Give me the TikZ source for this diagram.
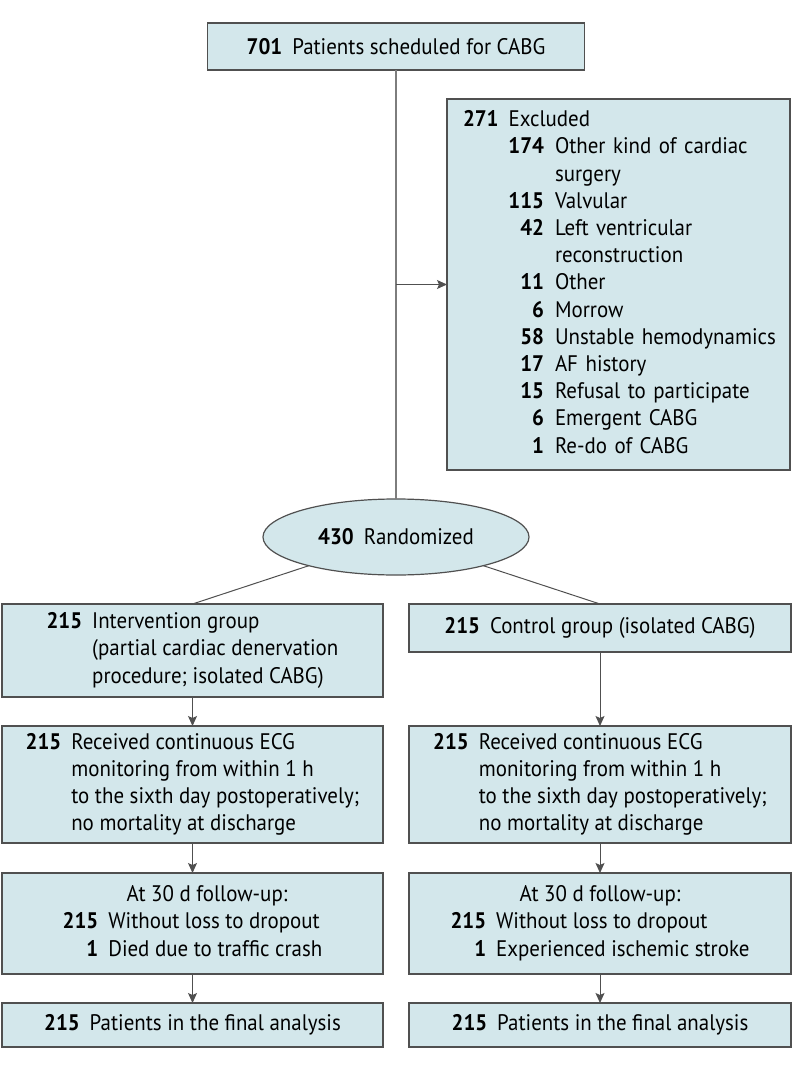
\documentclass[tikz,border=0pt]{standalone}
\usepackage{fontspec}
\setmainfont{PT Sans}[FakeStretch=0.93]
\usetikzlibrary{positioning,shapes.geometric,arrows.meta}

\definecolor{boxFill}{RGB}{211,231,235}
\definecolor{boxLine}{RGB}{80,80,80}
\definecolor{linkGray}{RGB}{125,125,125}

\newcommand{\cnt}[1]{\textbf{#1}}

\tikzstyle{flowBox} = [rectangle, draw=boxLine, fill=boxFill, line width=1.2pt, inner sep=0pt, outer sep=0pt, text centered, font=\fontsize{22.5}{27.2}\selectfont]
\tikzstyle{randNode} = [ellipse, draw=boxLine, fill=boxFill, line width=1.2pt, inner sep=0pt, outer sep=0pt, minimum width=266pt, minimum height=76pt, font=\fontsize{22.5}{27.2}\selectfont]
\tikzstyle{link} = [line width=1.6pt, draw=linkGray]
\tikzstyle{split} = [line width=1pt, draw=boxLine]
\tikzstyle{arrow} = [line width=1pt, draw=boxLine, -{Stealth[length=10pt,width=9pt,inset=2pt]}]

\begin{document}
\begin{tikzpicture}[x=1pt, y=1pt]
    \useasboundingbox (0,0) rectangle (794,-1067);

    \node (scheduled)[flowBox, minimum width=377pt, minimum height=47pt] at (396,-46.5) {\cnt{701}\hspace{10pt}Patients scheduled for CABG};
    \node (excluded)[flowBox, anchor=north west, minimum width=343pt, minimum height=371pt, text width=311pt, align=left] at (447,-99) {%
        \raisebox{-3pt}{\begin{tabular}{@{}r@{\hspace{11pt}}l@{}}
        \multicolumn{2}{@{}l@{}}{\cnt{271}\hspace{10pt}Excluded}\\
        \makebox[81pt][r]{\cnt{174}} & Other kind of cardiac\\
         & surgery\\
        \cnt{115} & Valvular\\
        \cnt{42} & Left ventricular\\
         & reconstruction\\
        \cnt{11} & Other\\
        \cnt{6} & Morrow\\
        \cnt{58} & Unstable hemodynamics\\
        \cnt{17} & AF history\\
        \cnt{15} & Refusal to participate\\
        \cnt{6} & Emergent CABG\\
        \cnt{1} & Re-do of CABG
        \end{tabular}}};
    \node (randomized)[randNode] at (396,-537) {\cnt{430}\hspace{10pt}Randomized};

    \node (intervention)[flowBox, anchor=north west, minimum width=381pt, minimum height=93pt] at (2,-604) {%
        \begin{tabular}{@{}r@{\hspace{10pt}}l@{}}
        \cnt{215} & Intervention group\\
         & (partial cardiac denervation\\
         & procedure; isolated CABG)
        \end{tabular}};
    \node (control)[flowBox, right=26pt of intervention.north east, anchor=north west, minimum width=382pt, minimum height=48pt] {\cnt{215}\hspace{10pt}Control group (isolated CABG)};

    \node (monitorL)[flowBox, below=29pt of intervention, minimum width=381pt, minimum height=117pt] {%
        \begin{tabular}{@{}r@{\hspace{10pt}}l@{}}
        \cnt{215} & Received continuous ECG\\
         & monitoring from within 1 h\\
         & to the sixth day postoperatively;\\
         & no mortality at discharge
        \end{tabular}};
    \node (monitorR)[flowBox, right=26pt of monitorL, minimum width=382pt, minimum height=117pt] {%
        \begin{tabular}{@{}r@{\hspace{10pt}}l@{}}
        \cnt{215} & Received continuous ECG\\
         & monitoring from within 1 h\\
         & to the sixth day postoperatively;\\
         & no mortality at discharge
        \end{tabular}};

    \node (followL)[flowBox, below=30pt of monitorL, minimum width=381pt, minimum height=101pt] {%
        \begin{tabular}{@{}r@{\hspace{10pt}}l@{}}
        \multicolumn{2}{@{}c@{}}{\hspace{29pt}At 30 d follow-up:}\\
        \cnt{215} & Without loss to dropout\\
        \cnt{1} & Died due to traffic crash
        \end{tabular}};
    \node (followR)[flowBox, right=26pt of followL, minimum width=382pt, minimum height=101pt] {%
        \begin{tabular}{@{}r@{\hspace{10pt}}l@{}}
        \multicolumn{2}{@{}c@{}}{At 30 d follow-up:}\\
        \cnt{215} & Without loss to dropout\\
        \cnt{1} & Experienced ischemic stroke
        \end{tabular}};

    \node (analysisL)[flowBox, below=29pt of followL, minimum width=381pt, minimum height=44pt] {\cnt{215}\hspace{10pt}Patients in the final analysis};
    \node (analysisR)[flowBox, right=26pt of analysisL, minimum width=382pt, minimum height=44pt] {\cnt{215}\hspace{10pt}Patients in the final analysis};

    \coordinate (branch) at (scheduled.south |- excluded.west);

    \draw [link] (scheduled.south) -- (randomized.north);
    \draw [arrow] (branch) -- (excluded.west);

    \draw [split] (randomized) -- (intervention.north);
    \draw [split] (randomized) -- (control.north);

    \draw [arrow] (intervention) -- (monitorL);
    \draw [arrow] (control) -- (monitorR);
    \draw [arrow] (monitorL) -- (followL);
    \draw [arrow] (monitorR) -- (followR);
    \draw [arrow] (followL) -- (analysisL);
    \draw [arrow] (followR) -- (analysisR);
  \end{tikzpicture}
\end{document}
